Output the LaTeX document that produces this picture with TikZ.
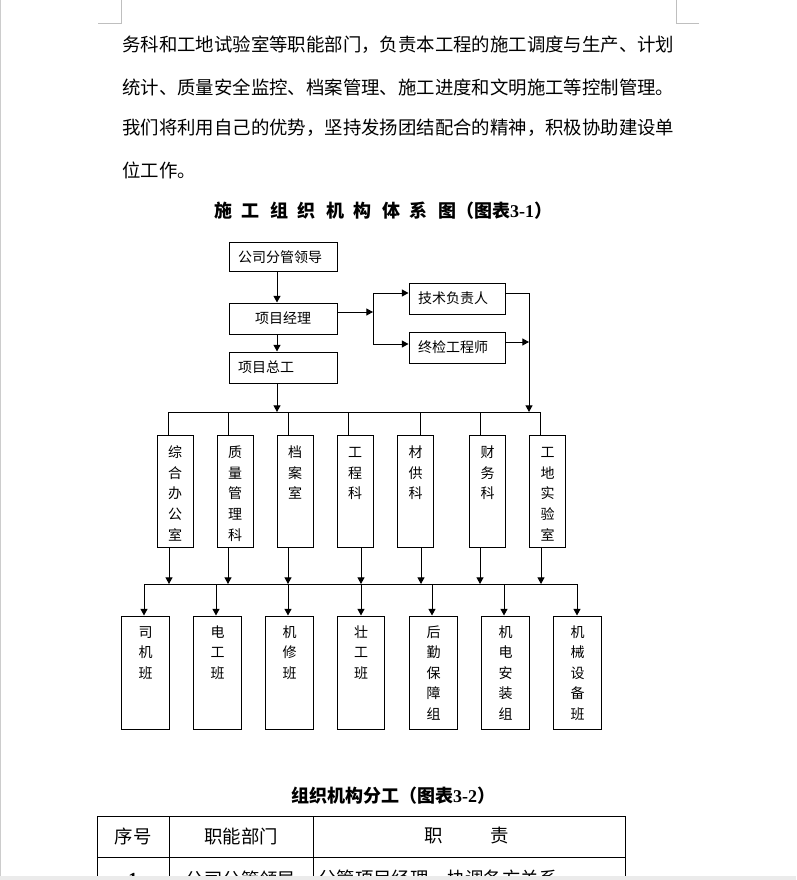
\documentclass[tikz,border=0pt]{standalone}
\usepackage{fontspec}
\setmainfont{Noto Sans CJK SC}
\newfontfamily\latinb{Liberation Serif}
\usetikzlibrary{arrows.meta}
\XeTeXlinebreaklocale "zh"
\XeTeXlinebreakskip=0pt plus 1.5pt
\newcommand\midtext[1]{\parbox[c][84pt][t]{27pt}{\centering\fontsize{10.5pt}{15.6pt}\selectfont\rule{0pt}{16.75pt}#1}}
\newcommand\bottext[1]{\parbox[c][84.75pt][t]{35.6pt}{\centering\fontsize{10.5pt}{15.4pt}\selectfont\rule{0pt}{16pt}#1}}
\newcommand\bodyfont{\fontsize{13.8pt}{16pt}\selectfont}
\begin{document}
\begin{tikzpicture}[x=0.75pt,y=-0.75pt,
  ln/.style={line width=0.75pt},
  arr/.style={line width=0.75pt,-{Triangle[length=5pt,width=5.25pt]}},
  box/.style={draw,line width=0.75pt,inner sep=0pt,font=\fontsize{10.5pt}{12pt}\selectfont},
  lbox/.style={box,align=left},
  mbox/.style={draw,line width=0.75pt,inner sep=0pt},
  body/.style={anchor=west,inner sep=0pt,font=\bodyfont},
  ttl/.style={inner sep=0pt,font=\fontsize{13.5pt}{15pt}\selectfont\bfseries},
  cell/.style={inner sep=0pt,font=\fontsize{13.8pt}{16pt}\selectfont},
  mark/.style={draw=black!25,line width=0.75pt}
]
\clip (0,0) rectangle (796,880);
\fill[white] (0,0) rectangle (796,880);
% page marks
\draw[black!20,line width=0.75pt] (0.5,0) -- (0.5,876);
\draw[black!25,line width=0.75pt] (98,24) -- (121,24) -- (121,0);
\draw[black!25,line width=0.75pt] (699,24) -- (676,24) -- (676,0);
% body text
\node[body,text width=415.5pt] (p1) at (122,45) {\tolerance=10000\parfillskip=0pt 务科和工地试验室等职能部门，负责本工程的施工调度与生产、计划};
\node[body,text width=415.5pt] (p2) at (122,87) {\tolerance=10000\parfillskip=0pt 统计、质量安全监控、档案管理、施工进度和文明施工等控制管理。};
\node[body,text width=415.5pt] (p3) at (122,128) {\tolerance=10000\parfillskip=0pt 我们将利用自己的优势，坚持发扬团结配合的精神，积极协助建设单};
\node[body] (p4) at (122,170) {位工作。};
% title
\node[ttl] (t1) at (383,211) {施\hspace{7.5pt}工\hspace{7.5pt}组\hspace{7.5pt}织\hspace{7.5pt}机\hspace{7.5pt}构\hspace{7.5pt}体\hspace{7.5pt}系\hspace{7.5pt}图（图表{\latinb\bfseries 3-1}）};
% top boxes
\node[lbox,minimum width=81pt,minimum height=21.75pt,text width=67.5pt] (lead) at (283,257.5) {公司分管领导};
\node[box,minimum width=81pt,minimum height=23.25pt] (pm) at (283,318.5) {项目经理};
\node[lbox,minimum width=81pt,minimum height=23.25pt,text width=67.5pt] (ce) at (283,367.5) {项目总工};
\node[lbox,minimum width=72pt,minimum height=23.25pt,text width=58.5pt] (tech) at (457,298.5) {技术负责人};
\node[lbox,minimum width=72pt,minimum height=23.25pt,text width=58.5pt] (qc) at (457,347.5) {终检工程师};
% top connectors
\coordinate (xa) at (277,412);
\draw[arr] (xa |- lead.south) -- (xa |- pm.north);
\draw[arr] (xa |- pm.south) -- (xa |- ce.north);
\draw[arr] (xa |- ce.south) -- (xa);
\coordinate (j1) at (373,312);
\coordinate (j2) at (373,293);
\coordinate (j3) at (373,344);
\draw[arr] (j1 -| pm.east) -- (j1);
\draw[ln] (j2) -- (j3);
\draw[arr] (j2) -- (j2 -| tech.west);
\draw[arr] (j3) -- (j3 -| qc.west);
\coordinate (xb) at (529,412);
\coordinate (k1) at (529,293);
\coordinate (k2) at (529,342);
\draw[arr] (k1 -| tech.east) -- (k1) -- (xb);
\draw[arr] (k2 -| qc.east) -- (k2);
% bus 1
\coordinate (busL) at (168,412);
\coordinate (busR) at (540,412);
\draw[ln] (busL) -- (busR);
% middle boxes
\foreach \n/\cx/\tx/\bx/\t in {
  d1/175/168/169/{综\\合\\办\\公\\室},
  d2/235/228/228/{质\\量\\管\\理\\科},
  d3/295/288/288/{档\\案\\室},
  d4/355/348/361/{工\\程\\科},
  d5/415.5/420/421/{材\\供\\科},
  d6/487.5/480/480/{财\\务\\科},
  d7/547.5/540/541/{工\\地\\实\\验\\室}}{
  \node[mbox] (\n) at (\cx,491) {\midtext{\t}};
  \coordinate (tj\n) at (\tx,412);
  \draw[ln] (tj\n) -- (tj\n |- \n.north);
  \coordinate (bj\n) at (\bx,584);
  \draw[arr] (bj\n |- \n.south) -- (bj\n);
}
% bus 2
\coordinate (bus2L) at (144,584);
\coordinate (bus2R) at (577,584);
\draw[ln] (bus2L) -- (bus2R);
% bottom boxes
\foreach \n/\cx/\ax/\t in {
  b1/145.5/144/{司\\机\\班},
  b2/217.5/216/{电\\工\\班},
  b3/289.5/288/{机\\修\\班},
  b4/361/361/{壮\\工\\班},
  b5/433.5/432/{后\\勤\\保\\障\\组},
  b6/505.5/504/{机\\电\\安\\装\\组},
  b7/577.5/577/{机\\械\\设\\备\\班}}{
  \node[mbox] (\n) at (\cx,672.5) {\bottext{\t}};
  \coordinate (bb\n) at (\ax,584);
  \draw[arr] (bb\n) -- (bb\n |- \n.north);
}
% second title
\node[ttl] (t2) at (393,796) {组织机构分工（图表{\latinb\bfseries 3-2}）};
% table
\draw[ln] (97,880) -- (97,816) -- (625,816) -- (625,880);
\draw[ln] (97,857) -- (625,857);
\draw[ln] (169,816) -- (169,880);
\draw[ln] (313,816) -- (313,880);
\node[cell] (h1) at (133,836) {序号};
\node[cell] (h2) at (241,836) {职能部门};
\node[cell] (h3a) at (434,836) {职};
\node[cell] (h3b) at (500,836) {责};
\node[cell,font=\fontsize{13.8pt}{16pt}\selectfont\latinb\bfseries] (r1) at (133,879) {1};
\node[cell] (r2) at (241,879) {公司分管领导};
\node[cell,anchor=west] (r3) at (318,879) {分管项目经理，协调各方关系};
\fill[black!8] (0,876) rectangle (796,880);
\end{tikzpicture}
\end{document}
